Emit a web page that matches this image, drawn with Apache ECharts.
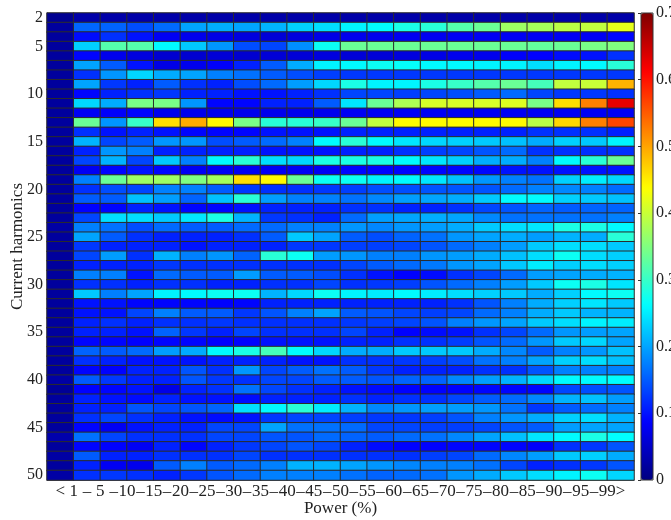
<!DOCTYPE html>
<html>
<head>
<meta charset="utf-8">
<script src="https://cdn.jsdelivr.net/npm/echarts@6/dist/echarts.min.js"></script>
<style>
  html, body { margin: 0; padding: 0; background: #fff; }
  #harmonicsChart { width: 671px; height: 520px; }
</style>
</head>
<body>
<div id="harmonicsChart"></div>
<script>
  // power bins (x) and the edge values printed between them
  var powerBins = ['<1', '1-5', '5-10', '10-15', '15-20', '20-25', '25-30', '30-35', '35-40', '40-45', '45-50',
    '50-55', '55-60', '60-65', '65-70', '70-75', '75-80', '80-85', '85-90', '90-95', '95-99', '>99'];
  var binEdges = [1, 5, 10, 15, 20, 25, 30, 35, 40, 45, 50, 55, 60, 65, 70, 75, 80, 85, 90, 95, 99];
  // harmonic orders (y)
  var harmonics = [];
  for (var h = 2; h <= 50; h++) harmonics.push(h);
  var colorTicks = [0, 0.1, 0.2, 0.3, 0.4, 0.5, 0.6, 0.7];

  // one row per harmonic order, one value per power bin
  var loadShare = [
    [0.012, 0.028, 0.028, 0.028, 0.028, 0.028, 0.028, 0.028, 0.028, 0.028, 0.028, 0.028, 0.028, 0.028, 0.028, 0.028, 0.028, 0.028, 0.028, 0.028, 0.028, 0.028], // 2
    [0.02, 0.157, 0.155, 0.14, 0.16, 0.2, 0.205, 0.2, 0.21, 0.23, 0.24, 0.255, 0.26, 0.28, 0.29, 0.32, 0.335, 0.37, 0.375, 0.39, 0.395, 0.42],
    [0.02, 0.095, 0.12, 0.1, 0.08, 0.075, 0.07, 0.065, 0.06, 0.065, 0.07, 0.075, 0.075, 0.078, 0.078, 0.08, 0.08, 0.08, 0.08, 0.08, 0.08, 0.09],
    [0.02, 0.23, 0.32, 0.32, 0.26, 0.225, 0.19, 0.14, 0.135, 0.185, 0.27, 0.335, 0.335, 0.335, 0.335, 0.335, 0.335, 0.335, 0.33, 0.335, 0.345, 0.35], // 5
    [0.02, 0.09, 0.075, 0.065, 0.055, 0.055, 0.06, 0.055, 0.06, 0.06, 0.065, 0.06, 0.06, 0.065, 0.07, 0.075, 0.075, 0.085, 0.088, 0.095, 0.1, 0.12],
    [0.02, 0.2, 0.15, 0.1, 0.07, 0.075, 0.085, 0.11, 0.15, 0.205, 0.255, 0.26, 0.27, 0.265, 0.26, 0.26, 0.255, 0.255, 0.24, 0.255, 0.26, 0.29],
    [0.02, 0.12, 0.19, 0.235, 0.205, 0.2, 0.175, 0.165, 0.15, 0.14, 0.13, 0.125, 0.125, 0.125, 0.125, 0.125, 0.125, 0.125, 0.125, 0.125, 0.125, 0.125],
    [0.02, 0.2, 0.125, 0.11, 0.15, 0.12, 0.11, 0.14, 0.16, 0.195, 0.235, 0.28, 0.255, 0.255, 0.28, 0.3, 0.32, 0.335, 0.31, 0.395, 0.4, 0.49],
    [0.02, 0.09, 0.11, 0.12, 0.125, 0.11, 0.11, 0.1, 0.1, 0.11, 0.12, 0.135, 0.135, 0.13, 0.135, 0.14, 0.15, 0.16, 0.135, 0.125, 0.125, 0.12], // 10
    [0.02, 0.235, 0.205, 0.345, 0.345, 0.19, 0.09, 0.09, 0.11, 0.11, 0.15, 0.245, 0.335, 0.38, 0.41, 0.41, 0.41, 0.415, 0.345, 0.46, 0.525, 0.63],
    [0.02, 0.08, 0.085, 0.09, 0.075, 0.075, 0.075, 0.075, 0.075, 0.075, 0.075, 0.08, 0.08, 0.08, 0.08, 0.08, 0.08, 0.08, 0.08, 0.08, 0.08, 0.08],
    [0.02, 0.335, 0.19, 0.3, 0.46, 0.495, 0.44, 0.345, 0.29, 0.29, 0.3, 0.335, 0.395, 0.44, 0.44, 0.44, 0.44, 0.44, 0.39, 0.465, 0.525, 0.565],
    [0.02, 0.12, 0.1, 0.11, 0.1, 0.09, 0.09, 0.09, 0.1, 0.1, 0.1, 0.11, 0.11, 0.11, 0.11, 0.11, 0.11, 0.11, 0.12, 0.12, 0.12, 0.11],
    [0.02, 0.21, 0.135, 0.15, 0.19, 0.19, 0.14, 0.15, 0.16, 0.175, 0.26, 0.29, 0.26, 0.245, 0.235, 0.23, 0.225, 0.22, 0.205, 0.23, 0.225, 0.255], // 15
    [0.02, 0.11, 0.19, 0.175, 0.11, 0.11, 0.11, 0.11, 0.1, 0.1, 0.1, 0.11, 0.11, 0.12, 0.13, 0.135, 0.145, 0.16, 0.12, 0.12, 0.12, 0.12],
    [0.02, 0.135, 0.21, 0.135, 0.225, 0.175, 0.26, 0.29, 0.24, 0.235, 0.28, 0.28, 0.28, 0.26, 0.245, 0.23, 0.205, 0.205, 0.175, 0.26, 0.29, 0.335],
    [0.02, 0.08, 0.09, 0.1, 0.09, 0.08, 0.08, 0.08, 0.08, 0.08, 0.08, 0.09, 0.09, 0.09, 0.09, 0.09, 0.09, 0.1, 0.1, 0.1, 0.1, 0.1],
    [0.02, 0.175, 0.335, 0.37, 0.37, 0.35, 0.375, 0.46, 0.44, 0.335, 0.27, 0.27, 0.255, 0.26, 0.245, 0.22, 0.19, 0.175, 0.165, 0.23, 0.25, 0.235],
    [0.02, 0.12, 0.14, 0.135, 0.175, 0.175, 0.15, 0.125, 0.12, 0.12, 0.125, 0.13, 0.14, 0.14, 0.145, 0.145, 0.145, 0.16, 0.175, 0.18, 0.175, 0.16], // 20
    [0.02, 0.15, 0.15, 0.22, 0.195, 0.155, 0.22, 0.29, 0.195, 0.175, 0.175, 0.165, 0.18, 0.195, 0.2, 0.205, 0.225, 0.26, 0.26, 0.23, 0.225, 0.22],
    [0.02, 0.088, 0.09, 0.11, 0.1, 0.09, 0.09, 0.1, 0.11, 0.11, 0.11, 0.12, 0.12, 0.11, 0.11, 0.12, 0.135, 0.145, 0.155, 0.15, 0.155, 0.155],
    [0.02, 0.135, 0.24, 0.24, 0.225, 0.245, 0.28, 0.21, 0.125, 0.12, 0.11, 0.16, 0.195, 0.2, 0.205, 0.2, 0.18, 0.165, 0.165, 0.165, 0.165, 0.175],
    [0.025, 0.175, 0.165, 0.14, 0.16, 0.15, 0.15, 0.16, 0.16, 0.175, 0.175, 0.19, 0.18, 0.19, 0.195, 0.205, 0.225, 0.24, 0.245, 0.28, 0.28, 0.26],
    [0.02, 0.2, 0.15, 0.12, 0.11, 0.11, 0.11, 0.12, 0.15, 0.225, 0.2, 0.15, 0.14, 0.155, 0.165, 0.19, 0.2, 0.205, 0.195, 0.21, 0.205, 0.29], // 25
    [0.02, 0.125, 0.11, 0.11, 0.11, 0.1, 0.11, 0.11, 0.11, 0.125, 0.125, 0.13, 0.13, 0.135, 0.145, 0.16, 0.175, 0.195, 0.225, 0.24, 0.24, 0.225],
    [0.02, 0.135, 0.195, 0.12, 0.21, 0.175, 0.19, 0.155, 0.29, 0.27, 0.195, 0.19, 0.175, 0.175, 0.19, 0.195, 0.205, 0.22, 0.24, 0.27, 0.24, 0.23],
    [0.02, 0.11, 0.11, 0.11, 0.125, 0.12, 0.12, 0.12, 0.12, 0.12, 0.12, 0.135, 0.15, 0.16, 0.17, 0.19, 0.2, 0.225, 0.25, 0.23, 0.24, 0.23],
    [0.02, 0.175, 0.175, 0.1, 0.16, 0.15, 0.15, 0.195, 0.15, 0.15, 0.14, 0.12, 0.1, 0.088, 0.095, 0.12, 0.135, 0.16, 0.195, 0.2, 0.205, 0.21],
    [0.02, 0.12, 0.12, 0.11, 0.12, 0.12, 0.11, 0.11, 0.12, 0.12, 0.135, 0.12, 0.125, 0.13, 0.145, 0.16, 0.175, 0.195, 0.225, 0.27, 0.28, 0.245], // 30
    [0.02, 0.225, 0.175, 0.2, 0.255, 0.26, 0.27, 0.27, 0.21, 0.235, 0.27, 0.255, 0.25, 0.26, 0.25, 0.24, 0.23, 0.225, 0.205, 0.23, 0.26, 0.27],
    [0.02, 0.1, 0.1, 0.09, 0.09, 0.09, 0.088, 0.09, 0.11, 0.11, 0.11, 0.11, 0.11, 0.11, 0.11, 0.12, 0.145, 0.175, 0.205, 0.23, 0.245, 0.225],
    [0.02, 0.1, 0.1, 0.135, 0.175, 0.15, 0.15, 0.125, 0.145, 0.175, 0.2, 0.15, 0.145, 0.135, 0.13, 0.135, 0.16, 0.175, 0.205, 0.225, 0.21, 0.21],
    [0.02, 0.11, 0.12, 0.11, 0.12, 0.12, 0.125, 0.12, 0.12, 0.12, 0.12, 0.125, 0.13, 0.135, 0.145, 0.175, 0.19, 0.2, 0.225, 0.24, 0.255, 0.25],
    [0.02, 0.11, 0.11, 0.1, 0.155, 0.125, 0.11, 0.135, 0.12, 0.12, 0.12, 0.135, 0.11, 0.088, 0.095, 0.1, 0.12, 0.135, 0.16, 0.19, 0.195, 0.2], // 35
    [0.02, 0.09, 0.09, 0.088, 0.09, 0.09, 0.088, 0.09, 0.1, 0.1, 0.1, 0.11, 0.11, 0.12, 0.12, 0.13, 0.145, 0.16, 0.19, 0.225, 0.235, 0.2],
    [0.02, 0.155, 0.15, 0.16, 0.195, 0.205, 0.26, 0.28, 0.31, 0.26, 0.235, 0.205, 0.205, 0.225, 0.225, 0.225, 0.205, 0.18, 0.15, 0.175, 0.19, 0.22],
    [0.02, 0.12, 0.11, 0.1, 0.1, 0.1, 0.11, 0.11, 0.11, 0.1, 0.1, 0.12, 0.12, 0.125, 0.13, 0.14, 0.165, 0.175, 0.2, 0.23, 0.24, 0.22],
    [0.02, 0.09, 0.088, 0.11, 0.11, 0.145, 0.12, 0.19, 0.135, 0.15, 0.165, 0.15, 0.125, 0.11, 0.11, 0.11, 0.12, 0.12, 0.145, 0.175, 0.175, 0.175],
    [0.025, 0.15, 0.125, 0.11, 0.11, 0.145, 0.125, 0.12, 0.135, 0.135, 0.15, 0.15, 0.145, 0.155, 0.155, 0.18, 0.195, 0.21, 0.235, 0.26, 0.26, 0.262], // 40
    [0.015, 0.088, 0.09, 0.1, 0.07, 0.11, 0.12, 0.165, 0.135, 0.12, 0.11, 0.1, 0.095, 0.088, 0.088, 0.088, 0.09, 0.09, 0.09, 0.135, 0.14, 0.145],
    [0.02, 0.11, 0.1, 0.095, 0.11, 0.1, 0.1, 0.095, 0.11, 0.11, 0.11, 0.12, 0.11, 0.12, 0.12, 0.135, 0.15, 0.16, 0.18, 0.21, 0.22, 0.195],
    [0.02, 0.11, 0.11, 0.145, 0.135, 0.145, 0.155, 0.24, 0.26, 0.29, 0.25, 0.21, 0.18, 0.19, 0.195, 0.195, 0.19, 0.165, 0.125, 0.15, 0.16, 0.175],
    [0.02, 0.12, 0.135, 0.12, 0.11, 0.1, 0.095, 0.1, 0.125, 0.135, 0.135, 0.13, 0.125, 0.125, 0.13, 0.145, 0.175, 0.19, 0.205, 0.23, 0.24, 0.21],
    [0.02, 0.09, 0.08, 0.1, 0.11, 0.11, 0.135, 0.135, 0.2, 0.165, 0.165, 0.16, 0.135, 0.135, 0.13, 0.13, 0.135, 0.145, 0.15, 0.195, 0.2, 0.2], // 45
    [0.03, 0.165, 0.135, 0.12, 0.12, 0.12, 0.135, 0.135, 0.145, 0.145, 0.16, 0.155, 0.15, 0.16, 0.165, 0.18, 0.2, 0.22, 0.245, 0.26, 0.28, 0.262],
    [0.02, 0.09, 0.088, 0.08, 0.11, 0.09, 0.11, 0.125, 0.135, 0.145, 0.135, 0.11, 0.095, 0.088, 0.088, 0.09, 0.09, 0.09, 0.085, 0.12, 0.125, 0.145],
    [0.025, 0.15, 0.11, 0.11, 0.12, 0.12, 0.12, 0.135, 0.12, 0.12, 0.12, 0.12, 0.12, 0.12, 0.13, 0.135, 0.16, 0.18, 0.195, 0.225, 0.23, 0.205],
    [0.02, 0.11, 0.08, 0.075, 0.15, 0.175, 0.15, 0.16, 0.175, 0.21, 0.21, 0.2, 0.19, 0.18, 0.175, 0.175, 0.165, 0.135, 0.11, 0.12, 0.125, 0.145],
    [0.025, 0.12, 0.125, 0.12, 0.11, 0.125, 0.145, 0.16, 0.175, 0.175, 0.175, 0.165, 0.155, 0.16, 0.165, 0.19, 0.205, 0.225, 0.24, 0.255, 0.27, 0.235] // 50
  ];

  // matlab "jet"
  var jetColors = ['#000080', '#0000ff', '#0080ff', '#00ffff', '#80ff80', '#ffff00', '#ff8000', '#ff0000', '#800000'];

  var serif = 'Liberation Serif';
  var cells = [];
  loadShare.forEach(function (row, yi) {
    row.forEach(function (v, xi) {
      cells.push([xi, yi, v]);
    });
  });
  // labels sitting on the bin edges
  var edgeLabels = [''].concat(binEdges.map(String)).concat(['']);

  var myChart = echarts.init(document.getElementById('harmonicsChart'));
  var option = {
    backgroundColor: '#fff',
    animation: false,
    grid: [
      { left: 47, right: 37, top: 13, bottom: 40, outerBoundsMode: 'none' },
      { left: 641, width: 12, top: 13, height: 467, outerBoundsMode: 'none', show: true, z: 6, borderColor: '#333', borderWidth: 1, backgroundColor: 'transparent' }
    ],
    visualMap: {
      type: 'continuous',
      min: 0,
      max: 0.7,
      calculable: false,
      left: 641,
      top: 13,
      padding: 0,
      itemWidth: 12,
      itemHeight: 467,
      inRange: { color: jetColors }
    },
    xAxis: [
      {
        type: 'category',
        gridIndex: 0,
        data: powerBins,
        position: 'bottom',
        name: 'Power (%)',
        nameLocation: 'middle',
        nameMoveOverlap: false,
        nameGap: 20,
        nameTextStyle: { fontFamily: serif, fontSize: 17, color: '#222', verticalAlign: 'top' },
        axisLine: { lineStyle: { color: '#777' } },
        axisTick: { show: false },
        axisLabel: {
          interval: 0,
          margin: 3,
          fontFamily: serif,
          fontSize: 17,
          color: '#222',
          formatter: function (value, idx) {
            if (idx === 0) return '<';
            if (idx === powerBins.length - 1) return '>';
            return '–';
          }
        },
        splitLine: { show: false }
      },
      {
        type: 'category',
        gridIndex: 0,
        data: edgeLabels,
        position: 'bottom',
        boundaryGap: false,
        axisLine: { show: false },
        axisTick: { show: false },
        axisLabel: { interval: 0, margin: 3, fontFamily: serif, fontSize: 17, color: '#222' },
        splitLine: { show: false }
      },
      {
        type: 'value',
        gridIndex: 1,
        show: false
      }
    ],
    yAxis: [
      {
        type: 'category',
        gridIndex: 0,
        data: harmonics,
        inverse: true,
        name: 'Current harmonics',
        nameLocation: 'middle',
        nameMoveOverlap: false,
        nameGap: 21,
        nameTextStyle: { fontFamily: serif, fontSize: 17, color: '#222' },
        axisLine: { lineStyle: { color: '#777' } },
        axisTick: { show: false },
        axisLabel: {
          margin: 4,
          fontFamily: serif,
          fontSize: 16,
          color: '#222',
          interval: function (idx, value) {
            var n = Number(value);
            return n === 2 || n % 5 === 0;
          }
        },
        splitLine: { show: false }
      },
      {
        type: 'value',
        gridIndex: 1,
        position: 'right',
        min: 0,
        max: 0.7,
        interval: 0.1,
        axisLine: { show: false },
        axisTick: { show: true, inside: true, length: 3, lineStyle: { color: '#333' } },
        axisLabel: {
          margin: 3,
          fontFamily: serif,
          fontSize: 16,
          color: '#222',
          formatter: function (v) {
            return v === 0 ? '0' : v.toFixed(1);
          }
        },
        splitLine: { show: false }
      }
    ],
    series: [{
      type: 'heatmap',
      xAxisIndex: 0,
      yAxisIndex: 0,
      data: cells,
      itemStyle: { borderColor: '#2b2b2b', borderWidth: 1 },
      emphasis: { disabled: true }
    }]
  };
  myChart.setOption(option, true);
</script>
</body>
</html>
